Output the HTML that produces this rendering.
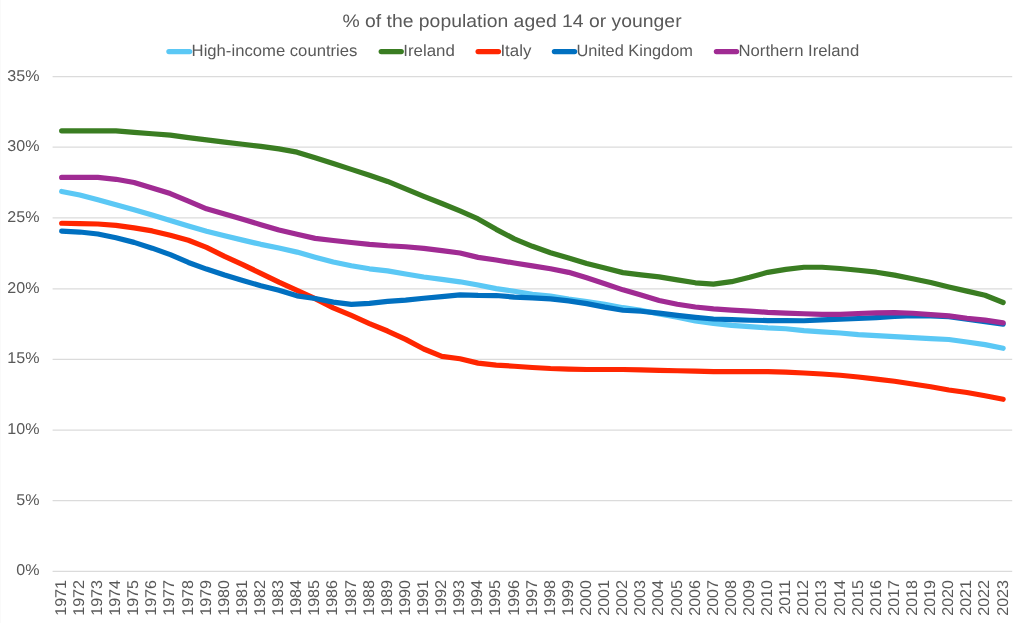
<!DOCTYPE html>
<html><head><meta charset="utf-8"><title>chart</title>
<style>
html,body{margin:0;padding:0;background:#fff;}
body{width:1024px;height:623px;overflow:hidden;font-family:"Liberation Sans",sans-serif;}
svg{display:block;will-change:transform;opacity:0.999;}
text{font-family:"Liberation Sans",sans-serif;fill:#595959;text-rendering:geometricPrecision;}
</style></head><body>
<svg width="1024" height="623" viewBox="0 0 1024 623">
<rect width="1024" height="623" fill="#ffffff"/>
<rect x="0" y="0" width="1" height="623" fill="#FAFAFA"/>

<g stroke="#DBDBDB" stroke-width="1.25">
<line x1="52.6" x2="1012.2" y1="571.35" y2="571.35"/>
<line x1="52.6" x2="1012.2" y1="500.70" y2="500.70"/>
<line x1="52.6" x2="1012.2" y1="430.15" y2="430.15"/>
<line x1="52.6" x2="1012.2" y1="359.30" y2="359.30"/>
<line x1="52.6" x2="1012.2" y1="288.90" y2="288.90"/>
<line x1="52.6" x2="1012.2" y1="217.95" y2="217.95"/>
<line x1="52.6" x2="1012.2" y1="147.00" y2="147.00"/>
<line x1="52.6" x2="1012.2" y1="76.54" y2="76.54"/>
</g>
<g font-size="15.6" text-anchor="end">
<text transform="translate(39.5,575.45) scale(1.03,1)">0%</text>
<text transform="translate(39.5,504.80) scale(1.03,1)">5%</text>
<text transform="translate(39.5,434.25) scale(1.03,1)">10%</text>
<text transform="translate(39.5,363.40) scale(1.03,1)">15%</text>
<text transform="translate(39.5,293.00) scale(1.03,1)">20%</text>
<text transform="translate(39.5,222.05) scale(1.03,1)">25%</text>
<text transform="translate(39.5,151.10) scale(1.03,1)">30%</text>
<text transform="translate(39.5,80.64) scale(1.03,1)">35%</text>
</g>
<g font-size="15.6" text-anchor="end">
<text transform="translate(65.75,580.05) rotate(-90) scale(1.03,1)">1971</text>
<text transform="translate(83.86,580.05) rotate(-90) scale(1.03,1)">1972</text>
<text transform="translate(101.98,580.05) rotate(-90) scale(1.03,1)">1973</text>
<text transform="translate(120.09,580.05) rotate(-90) scale(1.03,1)">1974</text>
<text transform="translate(138.20,580.05) rotate(-90) scale(1.03,1)">1975</text>
<text transform="translate(156.31,580.05) rotate(-90) scale(1.03,1)">1976</text>
<text transform="translate(174.42,580.05) rotate(-90) scale(1.03,1)">1977</text>
<text transform="translate(192.53,580.05) rotate(-90) scale(1.03,1)">1978</text>
<text transform="translate(210.65,580.05) rotate(-90) scale(1.03,1)">1979</text>
<text transform="translate(228.76,580.05) rotate(-90) scale(1.03,1)">1980</text>
<text transform="translate(246.87,580.05) rotate(-90) scale(1.03,1)">1981</text>
<text transform="translate(264.98,580.05) rotate(-90) scale(1.03,1)">1982</text>
<text transform="translate(283.09,580.05) rotate(-90) scale(1.03,1)">1983</text>
<text transform="translate(301.20,580.05) rotate(-90) scale(1.03,1)">1984</text>
<text transform="translate(319.32,580.05) rotate(-90) scale(1.03,1)">1985</text>
<text transform="translate(337.43,580.05) rotate(-90) scale(1.03,1)">1986</text>
<text transform="translate(355.54,580.05) rotate(-90) scale(1.03,1)">1987</text>
<text transform="translate(373.65,580.05) rotate(-90) scale(1.03,1)">1988</text>
<text transform="translate(391.76,580.05) rotate(-90) scale(1.03,1)">1989</text>
<text transform="translate(409.87,580.05) rotate(-90) scale(1.03,1)">1990</text>
<text transform="translate(427.99,580.05) rotate(-90) scale(1.03,1)">1991</text>
<text transform="translate(446.10,580.05) rotate(-90) scale(1.03,1)">1992</text>
<text transform="translate(464.21,580.05) rotate(-90) scale(1.03,1)">1993</text>
<text transform="translate(482.32,580.05) rotate(-90) scale(1.03,1)">1994</text>
<text transform="translate(500.43,580.05) rotate(-90) scale(1.03,1)">1995</text>
<text transform="translate(518.54,580.05) rotate(-90) scale(1.03,1)">1996</text>
<text transform="translate(536.66,580.05) rotate(-90) scale(1.03,1)">1997</text>
<text transform="translate(554.77,580.05) rotate(-90) scale(1.03,1)">1998</text>
<text transform="translate(572.88,580.05) rotate(-90) scale(1.03,1)">1999</text>
<text transform="translate(590.99,580.05) rotate(-90) scale(1.03,1)">2000</text>
<text transform="translate(609.10,580.05) rotate(-90) scale(1.03,1)">2001</text>
<text transform="translate(627.21,580.05) rotate(-90) scale(1.03,1)">2002</text>
<text transform="translate(645.33,580.05) rotate(-90) scale(1.03,1)">2003</text>
<text transform="translate(663.44,580.05) rotate(-90) scale(1.03,1)">2004</text>
<text transform="translate(681.55,580.05) rotate(-90) scale(1.03,1)">2005</text>
<text transform="translate(699.66,580.05) rotate(-90) scale(1.03,1)">2006</text>
<text transform="translate(717.77,580.05) rotate(-90) scale(1.03,1)">2007</text>
<text transform="translate(735.88,580.05) rotate(-90) scale(1.03,1)">2008</text>
<text transform="translate(754.00,580.05) rotate(-90) scale(1.03,1)">2009</text>
<text transform="translate(772.11,580.05) rotate(-90) scale(1.03,1)">2010</text>
<text transform="translate(790.22,580.05) rotate(-90) scale(1.03,1)">2011</text>
<text transform="translate(808.33,580.05) rotate(-90) scale(1.03,1)">2012</text>
<text transform="translate(826.44,580.05) rotate(-90) scale(1.03,1)">2013</text>
<text transform="translate(844.55,580.05) rotate(-90) scale(1.03,1)">2014</text>
<text transform="translate(862.67,580.05) rotate(-90) scale(1.03,1)">2015</text>
<text transform="translate(880.78,580.05) rotate(-90) scale(1.03,1)">2016</text>
<text transform="translate(898.89,580.05) rotate(-90) scale(1.03,1)">2017</text>
<text transform="translate(917.00,580.05) rotate(-90) scale(1.03,1)">2018</text>
<text transform="translate(935.11,580.05) rotate(-90) scale(1.03,1)">2019</text>
<text transform="translate(953.22,580.05) rotate(-90) scale(1.03,1)">2020</text>
<text transform="translate(971.34,580.05) rotate(-90) scale(1.03,1)">2021</text>
<text transform="translate(989.45,580.05) rotate(-90) scale(1.03,1)">2022</text>
<text transform="translate(1007.56,580.05) rotate(-90) scale(1.03,1)">2023</text>
</g>
<text transform="translate(512,27.0) scale(1.076,1)" font-size="18" text-anchor="middle">% of the population aged 14 or younger</text>
<g font-size="16.2">
<line x1="168.9" x2="189.7" y1="51.55" y2="51.55" stroke="#5BC8F5" stroke-width="5.2" stroke-linecap="round"/>
<text transform="translate(191.6,55.5) scale(1.0295,1)">High-income countries</text>
<line x1="381.2" x2="401.3" y1="51.55" y2="51.55" stroke="#3A7D22" stroke-width="5.2" stroke-linecap="round"/>
<text transform="translate(403.2,55.5) scale(1.0420,1)">Ireland</text>
<line x1="478.1" x2="498.5" y1="51.55" y2="51.55" stroke="#FF2600" stroke-width="5.2" stroke-linecap="round"/>
<text transform="translate(500.4,55.5) scale(1.0420,1)">Italy</text>
<line x1="554.4" x2="574.6" y1="51.55" y2="51.55" stroke="#0070C0" stroke-width="5.2" stroke-linecap="round"/>
<text transform="translate(576.5,55.5) scale(1.0107,1)">United Kingdom</text>
<line x1="716.4" x2="736.6" y1="51.55" y2="51.55" stroke="#A02B93" stroke-width="5.2" stroke-linecap="round"/>
<text transform="translate(738.5,55.5) scale(1.0316,1)">Northern Ireland</text>
</g>
<g fill="none" stroke-width="5.2" stroke-linecap="round" stroke-linejoin="round">
<path stroke="#5BC8F5" d="M61.65,191.46 L79.76,194.99 L97.86,199.80 L115.97,204.75 L134.08,209.84 L152.18,215.07 L170.29,220.59 L188.39,225.96 L206.50,231.19 L224.60,235.72 L242.71,240.10 L260.82,244.34 L278.92,248.02 L297.03,252.12 L315.13,257.21 L333.24,262.02 L351.34,265.69 L369.45,268.80 L387.55,270.92 L405.66,274.04 L423.77,277.01 L441.87,279.41 L459.98,281.81 L478.08,285.06 L496.19,288.60 L514.29,291.29 L532.40,294.26 L550.51,296.09 L568.61,299.06 L586.72,301.61 L604.82,304.30 L622.93,307.69 L641.03,310.23 L659.14,314.05 L677.25,317.30 L695.35,320.84 L713.46,323.38 L731.56,325.36 L749.67,326.64 L767.77,327.91 L785.88,328.76 L803.98,330.60 L822.09,331.87 L840.20,333.00 L858.30,334.70 L876.41,335.69 L894.51,336.68 L912.62,337.67 L930.72,338.66 L948.83,339.50 L966.94,342.05 L985.04,344.59 L1003.15,348.27"/>
<path stroke="#3A7D22" d="M61.65,130.80 L79.76,130.80 L97.86,130.80 L115.97,130.80 L134.08,132.35 L152.18,133.77 L170.29,135.18 L188.39,137.58 L206.50,139.85 L224.60,142.11 L242.71,144.23 L260.82,146.35 L278.92,148.90 L297.03,152.15 L315.13,157.66 L333.24,163.46 L351.34,169.40 L369.45,175.20 L387.55,181.42 L405.66,188.91 L423.77,196.41 L441.87,203.48 L459.98,210.97 L478.08,218.89 L496.19,229.35 L514.29,238.83 L532.40,246.32 L550.51,252.68 L568.61,258.06 L586.72,263.57 L604.82,268.10 L622.93,272.62 L641.03,274.88 L659.14,276.86 L677.25,279.83 L695.35,282.80 L713.46,284.08 L731.56,281.67 L749.67,277.29 L767.77,272.34 L785.88,269.37 L803.98,267.25 L822.09,267.25 L840.20,268.52 L858.30,270.22 L876.41,272.20 L894.51,275.17 L912.62,278.70 L930.72,282.52 L948.83,286.97 L966.94,291.15 L985.04,295.25 L1003.15,302.46"/>
<path stroke="#FF2600" d="M61.65,223.27 L79.76,223.56 L97.86,223.98 L115.97,225.39 L134.08,227.94 L152.18,230.91 L170.29,235.29 L188.39,240.24 L206.50,247.45 L224.60,256.36 L242.71,264.56 L260.82,273.33 L278.92,282.10 L297.03,290.30 L315.13,298.64 L333.24,307.83 L351.34,315.47 L369.45,323.53 L387.55,331.02 L405.66,339.36 L423.77,348.98 L441.87,356.33 L459.98,358.73 L478.08,363.12 L496.19,365.10 L514.29,366.23 L532.40,367.50 L550.51,368.49 L568.61,369.06 L586.72,369.48 L604.82,369.48 L622.93,369.48 L641.03,369.90 L659.14,370.33 L677.25,370.75 L695.35,371.04 L713.46,371.60 L731.56,371.60 L749.67,371.60 L767.77,371.60 L785.88,372.17 L803.98,373.02 L822.09,374.01 L840.20,375.28 L858.30,376.97 L876.41,379.10 L894.51,381.22 L912.62,384.04 L930.72,386.73 L948.83,389.98 L966.94,392.53 L985.04,395.78 L1003.15,399.32"/>
<path stroke="#0070C0" d="M61.65,231.05 L79.76,232.04 L97.86,234.02 L115.97,237.77 L134.08,242.36 L152.18,248.16 L170.29,254.59 L188.39,262.44 L206.50,269.09 L224.60,275.03 L242.71,280.40 L260.82,285.77 L278.92,290.30 L297.03,295.81 L315.13,298.50 L333.24,302.17 L351.34,304.30 L369.45,303.45 L387.55,301.40 L405.66,300.05 L423.77,298.22 L441.87,296.66 L459.98,294.82 L478.08,295.39 L496.19,295.53 L514.29,297.08 L532.40,297.93 L550.51,298.92 L568.61,300.90 L586.72,303.59 L604.82,307.12 L622.93,310.23 L641.03,311.22 L659.14,313.20 L677.25,315.32 L695.35,317.30 L713.46,319.00 L731.56,319.71 L749.67,320.27 L767.77,320.56 L785.88,320.70 L803.98,320.77 L822.09,319.78 L840.20,319.21 L858.30,318.51 L876.41,317.66 L894.51,316.53 L912.62,315.68 L930.72,315.89 L948.83,316.60 L966.94,319.14 L985.04,321.55 L1003.15,324.09"/>
<path stroke="#A02B93" d="M61.65,177.46 L79.76,177.46 L97.86,177.46 L115.97,179.30 L134.08,182.55 L152.18,187.92 L170.29,193.58 L188.39,201.07 L206.50,208.85 L224.60,214.08 L242.71,219.17 L260.82,224.69 L278.92,230.06 L297.03,234.30 L315.13,238.40 L333.24,240.52 L351.34,242.50 L369.45,244.34 L387.55,245.76 L405.66,246.75 L423.77,248.30 L441.87,250.56 L459.98,252.97 L478.08,257.35 L496.19,260.04 L514.29,263.01 L532.40,265.83 L550.51,268.80 L568.61,272.34 L586.72,277.85 L604.82,283.65 L622.93,289.87 L641.03,295.10 L659.14,300.48 L677.25,304.30 L695.35,306.98 L713.46,308.82 L731.56,310.09 L749.67,311.08 L767.77,312.36 L785.88,313.20 L803.98,313.77 L822.09,314.33 L840.20,314.33 L858.30,313.49 L876.41,312.78 L894.51,312.71 L912.62,313.27 L930.72,314.69 L948.83,315.89 L966.94,318.29 L985.04,320.13 L1003.15,322.82"/>
</g>
</svg></body></html>
